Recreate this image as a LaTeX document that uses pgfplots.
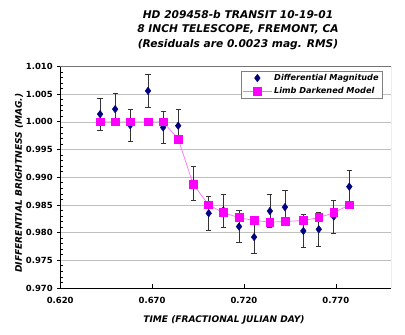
\documentclass[border=0pt]{standalone}
\usepackage{fontspec}
\setmainfont{DejaVu Sans}
\usepackage{pgfplots}
\pgfplotsset{compat=1.18}
\usepackage{pgfplotstable}
\definecolor{navy}{RGB}{0,0,128}
\definecolor{mag}{RGB}{255,0,255}
\definecolor{magline}{RGB}{255,110,255}
\pgfplotsset{
  legmark/.style={legend image code/.code={\draw[##1] plot coordinates {(14.5bp,0bp)};\path (0bp,0bp) (29bp,0bp);}},
  legline/.style={legend image code/.code={\draw[##1,mark repeat=2,mark phase=2] plot coordinates {(0bp,0bp)(14.5bp,0bp)(29bp,0bp)};}},
}
\pgfplotstableread{
x y err model
0.6417 1.0014 0.0029 1.0000
0.6499 1.0023 0.0029 1.0000
0.6581 0.9994 0.0029 1.0000
0.6678 1.0056 0.0029 1.0000
0.6760 0.9990 0.0029 1.0000
0.6842 0.9993 0.0029 0.9969
0.6924 0.9889 0.0030 0.9887
0.7008 0.9835 0.0030 0.9850
0.7088 0.9840 0.0030 0.9836
0.7173 0.9811 0.0029 0.9827
0.7255 0.9792 0.0029 0.9822
0.7341 0.9839 0.0030 0.9819
0.7423 0.9846 0.0030 0.9820
0.7523 0.9803 0.0030 0.9822
0.7607 0.9806 0.0030 0.9827
0.7689 0.9829 0.0030 0.9836
0.7773 0.9883 0.0030 0.9850
}\data
\begin{document}
\begin{tikzpicture}
\path (0,0) rectangle (405bp,335bp);
\node[align=center,font=\fontsize{10.7}{14.5}\selectfont\bfseries\itshape] at (238bp,305bp) {HD 209458-b TRANSIT 10-19-01\\8 INCH TELESCOPE, FREMONT, CA\\(Residuals are 0.0023 mag. RMS)};
\node[font=\fontsize{9.1}{11}\selectfont\bfseries\itshape] at (224bp,15bp) {TIME (FRACTIONAL JULIAN DAY)};
\node[rotate=90,font=\fontsize{9.1}{11}\selectfont\bfseries\itshape] at (19bp,152bp) {DIFFERENTIAL BRIGHTNESS (MAG.)};
\begin{axis}[
  at={(60.2bp,47bp)}, anchor=south west,
  scale only axis, width=330.8bp, height=221.5bp,
  xmin=0.62, xmax=0.80, ymin=0.97, ymax=1.01,
  xtick={0.62,0.67,0.72,0.77},
  ytick distance=0.005,
  minor y tick num=4,
  axis x line*=bottom, axis y line*=left,
  axis line style={black, line width=0.8bp, -},
  tick align=inside,
  major tick length=4bp, minor tick length=3bp,
  every major y tick/.append style={xshift=-3bp},
  major y tick style={line width=0.8bp},
  every tick/.style={black, line width=0.7bp},
  ymajorgrids, grid style={gray!50, line width=0.7bp},
  /pgf/number format/assume math mode=true,
  tick label style={font=\fontsize{8.5}{10}\selectfont\bfseries},
  xticklabel style={/pgf/number format/.cd, fixed, fixed zerofill, precision=3, /tikz/.cd, yshift=-6bp},
  yticklabel style={/pgf/number format/.cd, fixed, fixed zerofill, precision=3, /tikz/.cd, xshift=-4bp},
  scaled x ticks=false, scaled y ticks=false,
  legend style={at={(1,1)}, anchor=north east, xshift=-8.7bp, yshift=-4bp,
    draw=black!50, fill=white, font=\fontsize{8.2}{10}\selectfont\bfseries\itshape,
    inner sep=1.5bp, row sep=1.5bp},
  legend cell align=left,
]
\addplot[only marks, mark=diamond*, mark size=3.8bp, navy,
  mark options={fill=navy, draw=navy}, legmark,
  error bars/.cd, y dir=both, y explicit,
  error bar style={black!80, line width=0.7bp},
  error mark options={rotate=90, mark size=2.6bp, black!80, line width=0.7bp}]
  table[x=x, y=y, y error=err] {\data};
\addlegendentry{Differential Magnitude}
\addplot[magline, line width=0.7bp, mark=square*, mark size=3.9bp,
  mark options={fill=mag, draw=mag, solid}, legline]
  table[x=x, y=model] {\data};
\addlegendentry{Limb Darkened Model}
\draw[black!55, line width=0.8bp] (rel axis cs:0,1) -- (rel axis cs:1,1) -- (rel axis cs:1,0);
\end{axis}
\end{tikzpicture}
\end{document}
